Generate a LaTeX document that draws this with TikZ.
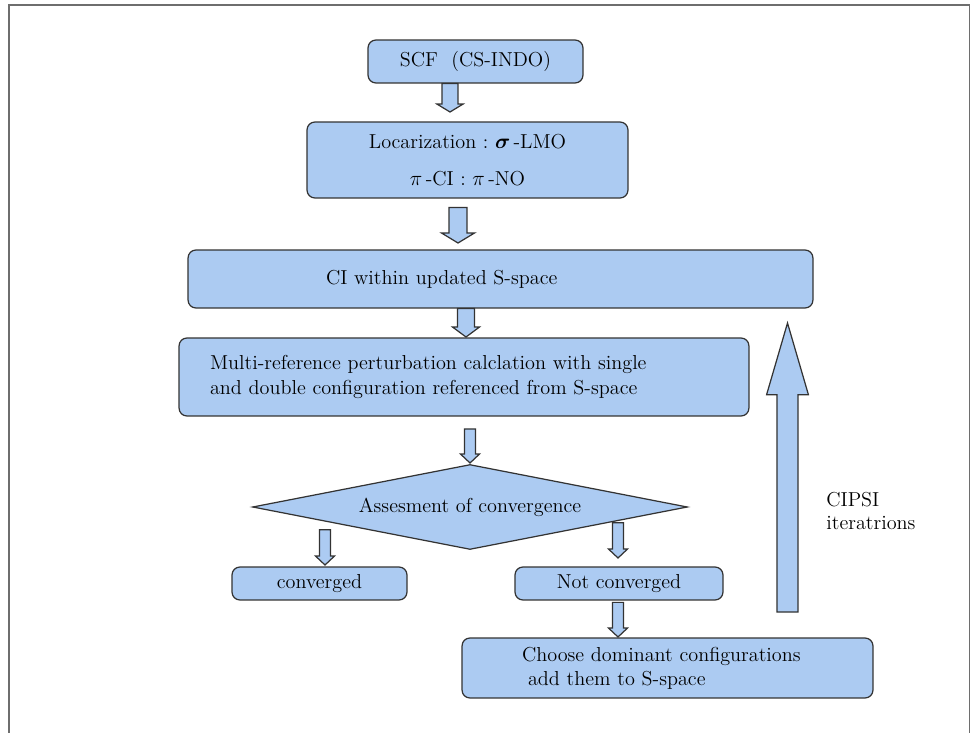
\documentclass[tikz,border=0pt]{standalone}
\usepackage{amsmath}
\usetikzlibrary{shapes.geometric,calc}
\definecolor{boxblue}{RGB}{172,203,242}
\definecolor{framegray}{RGB}{110,110,110}

\begin{document}
\begin{tikzpicture}[x=0.02cm, y=-0.02cm,
        box/.style={draw=black!80, fill=boxblue, line width=0.7pt, rounded corners=4.5pt,
            inner sep=0pt, font=\fontsize{11.5}{13.8}\selectfont},
        dec/.style={draw=black!80, fill=boxblue, line width=0.7pt, diamond, aspect=5,
            inner sep=0pt, font=\fontsize{11.5}{13.8}\selectfont},
        blk/.style n args={3}{draw=black!80, fill=boxblue, line width=0.7pt,
            to path={let \p1=(\tikztostart), \p2=(\tikztotarget), \n1={ifthenelse(\y2<\y1,1,-1)} in
                ({\x2-#1},{\y1}) -- ({\x2+#1},{\y1}) -- ({\x2+#1},{\y2+\n1*#3}) -- ({\x2+#2},{\y2+\n1*#3})
                -- ({\x2},{\y2}) -- ({\x2-#2},{\y2+\n1*#3}) -- ({\x2-#1},{\y2+\n1*#3}) -- cycle}},
        smallblk/.style={blk={3.1pt}{5.4pt}{5.1pt}}]

        \path[use as bounding box, clip] (0, 0) rectangle (971, 733);
        \draw[framegray, line width=1.1pt] (9, 745) -- (9, 5) -- (969.5, 5) -- (969.5, 745);

        \node (scf) at (475.5, 61.5) [box, minimum width=4.3cm, minimum height=0.86cm] {SCF\ \ (CS-INDO)};
        \node (loc) at (467.5, 160) [box, minimum width=6.42cm, minimum height=1.52cm, align=center]
            {Locarization~:~$\boldsymbol{\sigma}$\,-LMO \\[7pt] $\pi$\,-CI\ :\ $\pi$\,-NO};
        \node (ci) at (500.5, 279) [box, minimum height=1.16cm, text width=6.98cm, inner xsep=2.76cm, align=left]
            {CI within updated S-space};
        \node (multi) at (464, 377) [box, minimum height=1.56cm, text width=10.16cm, inner xsep=0.62cm, align=left]
            {Multi-reference perturbation calclation with single \\[0.5pt] and double configuration referenced from S-space};
        \node (conv) at (470, 507) [dec, minimum width=8.7cm, minimum height=1.7cm] {Assesment of convergence};
        \node (yes) at (319.5, 583.5) [box, minimum width=3.5cm, minimum height=0.66cm] {converged};
        \node (no) at (619, 583.5) [box, minimum width=4.16cm, minimum height=0.66cm] {Not converged};
        \node (choose) at (667.5, 668) [box, minimum height=1.2cm, text width=5.82cm, inner xsep=1.2cm, align=left]
            {Choose dominant configurations \\ \hspace*{0.3em}add them to S-space};

        \node (iterlabel) at (826, 511) [anchor=west, inner sep=0pt, align=left, font=\fontsize{11.5}{13.5}\selectfont]
            {CIPSI \\ iteratrions};

        \coordinate (t1) at (450, 112);
        \coordinate (t2) at (458, 243);
        \coordinate (t3) at (466, 337);
        \coordinate (t4) at (470, 463);
        \coordinate (tyes) at (325, 565);
        \coordinate (tno) at (618, 558);
        \coordinate (tchoose) at (618, 637);
        \coordinate (iterbot) at (787.5, 612);
        \coordinate (itertop) at (787.5, 323);

        \draw [blk={4.5pt}{7.4pt}{4.5pt}] (scf.south) to (t1);
        \draw [blk={5.1pt}{9.4pt}{5.7pt}] ([yshift=-5pt]loc.south) to (t2);
        \draw [blk={4.8pt}{7.7pt}{5.7pt}] (ci.south) to (t3);
        \draw [smallblk] ([yshift=-7pt]multi.south) to (t4);
        \draw [smallblk] ([yshift=-13pt]conv.center) to (tyes);
        \draw [smallblk] ([yshift=-9pt]conv.center) to (tno);
        \draw [smallblk] ([yshift=-1pt]no.south) to (tchoose);
        \draw [blk={6pt}{11.9pt}{40.8pt}] (iterbot) to (itertop);
    \end{tikzpicture}
\end{document}
